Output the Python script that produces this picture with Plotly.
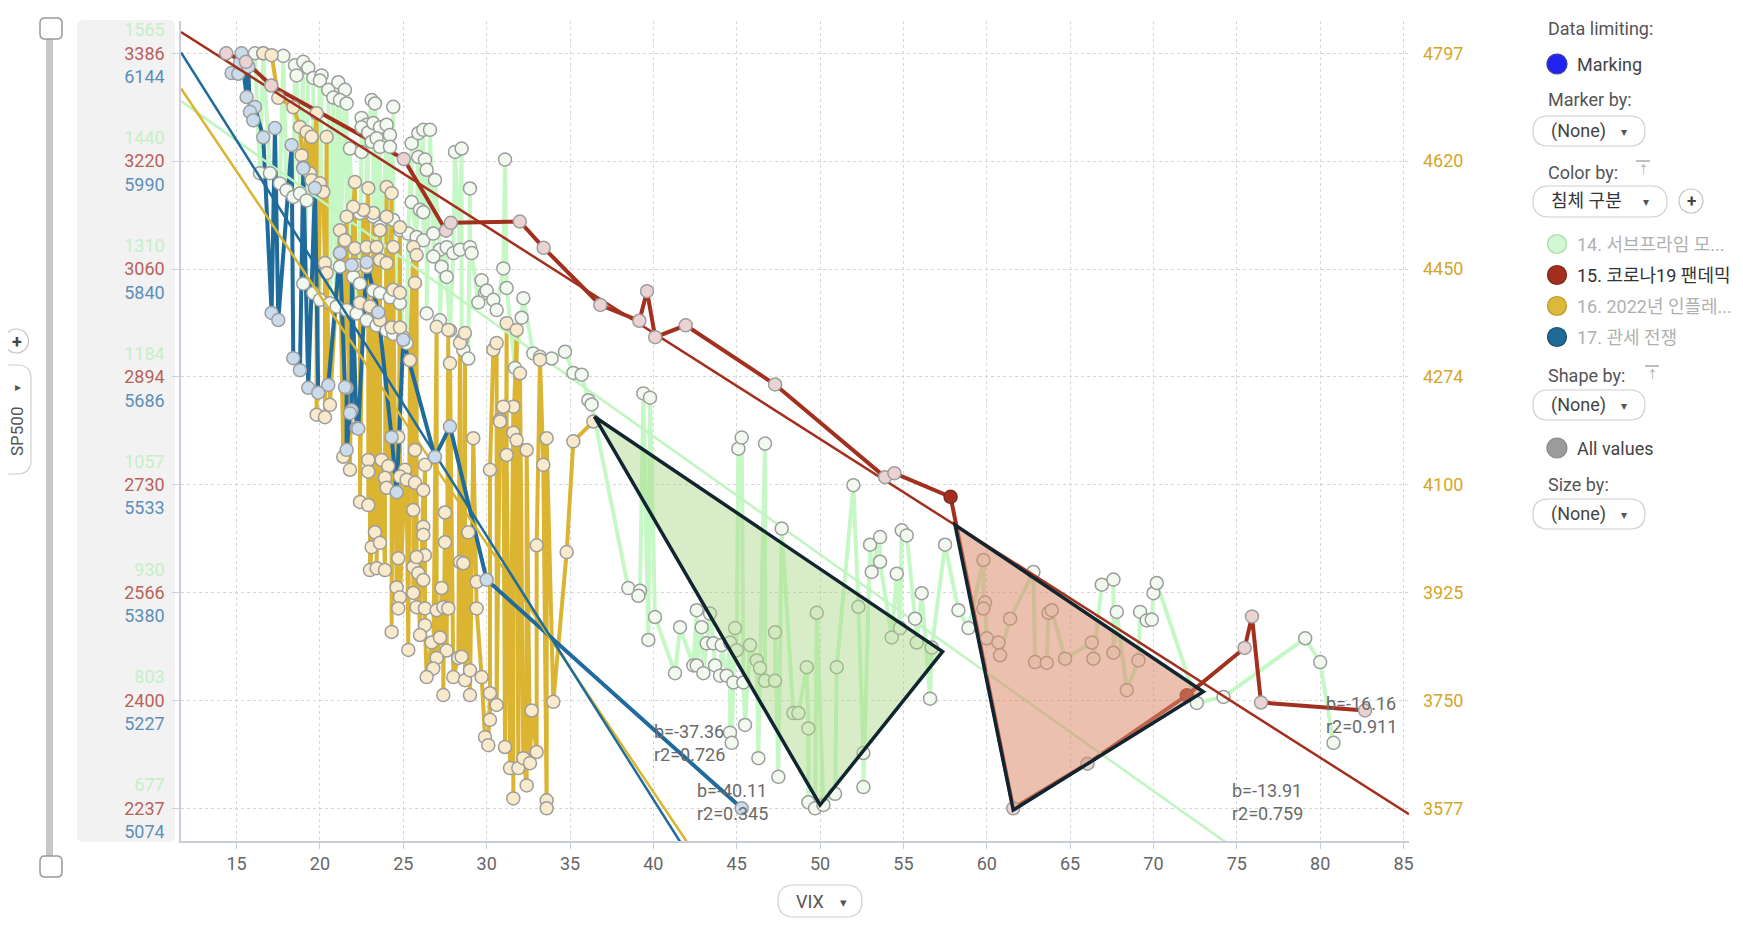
import numpy as np
import plotly.graph_objects as go

# ---------------- data ----------------
categories = ["14. 서브프라임 모...", "15. 코로나19 팬데믹", "16. 2022년 인플레...", "17. 관세 전쟁"]

green_ticks = [1565, 1440, 1310, 1184, 1057, 930, 803, 677]
red_ticks = [3386, 3220, 3060, 2894, 2730, 2566, 2400, 2237]
blue_ticks = [6144, 5990, 5840, 5686, 5533, 5380, 5227, 5074]
yellow_ticks = [4797, 4620, 4450, 4274, 4100, 3925, 3750, 3577]

# 14. subprime (VIX, SP500)
green_vix = [16.1, 16.6, 17.8, 18.5, 19.0, 19.3, 18.6, 19.6, 20.1, 20.0, 20.5, 21.1, 21.5, 20.8, 21.2, 21.6,
             22.5, 22.8, 23.1, 23.3, 22.5, 22.9, 23.2, 23.6, 24.0, 24.2, 24.4, 21.8, 22.5, 23.1, 23.4, 23.6,
             24.2, 25.5, 25.9, 26.2, 26.6, 25.9, 26.3, 26.4, 26.9, 28.1, 28.5, 29.0, 31.1,
             16.4, 17.0, 17.6, 18.0, 18.4, 18.8, 19.2, 25.5, 26.0, 26.2, 22.4, 23.2, 23.6, 24.4, 24.8, 25.3,
             25.8, 26.2, 26.8, 27.2, 27.6, 28.0, 28.4, 29.0, 29.1, 26.8, 27.3, 27.6, 29.7, 29.9, 29.5, 30.0,
             30.4, 30.6, 31.0, 31.2, 32.2, 32.1, 26.4, 27.2, 27.8, 28.5, 28.6, 28.9, 31.7, 32.8, 33.2, 33.9,
             21.2, 22.0, 22.4, 23.2, 23.6, 24.2, 24.8, 19.0, 19.6, 20.0, 20.6, 21.0, 21.6, 22.2, 22.8, 23.4,
             24.0, 24.4, 25.0, 25.2, 34.7, 35.2, 35.7, 36.1, 36.3,
             38.5, 39.2, 39.1, 39.4, 39.8, 40.1, 39.7, 41.3, 41.6, 42.6, 42.9, 43.4, 43.2, 43.6, 44.1, 44.6,
             45.0, 42.4, 42.6, 43.0, 43.7, 44.0, 44.4, 44.8, 45.4, 44.9, 45.1, 45.3, 46.7, 45.5, 44.6, 44.7,
             46.3, 47.5, 45.8, 46.2, 46.4, 46.7, 47.3, 47.3, 47.7, 48.4, 48.7, 49.3, 49.2, 49.3, 49.7, 50.2,
             50.9, 49.8, 51.0, 52.0, 52.3, 52.6, 52.6, 53.0, 53.6, 53.6, 53.1, 54.6, 54.9, 55.2, 54.3, 54.8,
             55.7, 55.8, 56.1, 56.6, 56.7, 57.5, 58.3, 58.9, 59.8, 59.9, 59.8, 60.0, 60.7, 60.8, 61.4, 62.8,
             62.9, 63.6, 63.7, 63.9, 64.7, 66.3, 66.4, 66.9, 67.6, 67.8, 67.6, 68.4, 69.1, 69.2, 69.6, 69.9,
             70.0, 70.2, 72.6, 74.2, 79.1, 80.0, 80.8]
green_sp = [1565, 1565, 1562, 1551, 1555, 1548, 1539, 1536, 1539, 1533, 1522, 1531, 1522, 1513, 1510, 1506,
            1489, 1481, 1510, 1506, 1478, 1472, 1483, 1478, 1481, 1469, 1502, 1453, 1449, 1461, 1465, 1455,
            1455, 1459, 1471, 1475, 1475, 1443, 1440, 1428, 1416, 1449, 1453, 1406, 1440,
            1424, 1424, 1412, 1404, 1396, 1400, 1392, 1390, 1381, 1378, 1377, 1373, 1361, 1369, 1357, 1353,
            1349, 1345, 1353, 1334, 1337, 1330, 1334, 1337, 1330, 1326, 1314, 1302, 1298, 1283, 1272, 1286,
            1275, 1263, 1312, 1289, 1277, 1254, 1259, 1251, 1239, 1228, 1216, 1206, 1195, 1212, 1208, 1206,
            1314, 1302, 1294, 1286, 1283, 1278, 1271, 1294, 1283, 1275, 1271, 1267, 1263, 1259, 1251, 1245,
            1239, 1235, 1231, 1224, 1214, 1189, 1187, 1157, 1152,
            936, 933, 927, 1165, 1160, 902, 875, 836, 890, 910, 890, 906, 871, 871, 869, 872,
            863, 845, 845, 836, 845, 833, 833, 825, 825, 889, 1100, 1113, 1106, 775, 766, 754,
            736, 714, 869, 851, 842, 827, 827, 884, 1006, 789, 789, 771, 843, 684, 677, 681,
            694, 907, 843, 1057, 914, 742, 702, 987, 996, 967, 955, 953, 1004, 998, 878, 889,
            900, 872, 930, 806, 866, 987, 910, 889, 969, 919, 912, 877, 872, 857, 900, 955,
            849, 848, 907, 910, 853, 872, 853, 940, 946, 908, 860, 816, 851, 908, 898, 899,
            930, 942, 801, 808, 877, 849, 754]

# 15. COVID-19
red_vix = [14.38, 15.56, 17.08, 25.03, 27.56, 27.85, 31.99, 33.42, 36.82, 39.16, 39.62, 40.11, 41.94,
           47.30, 53.90, 54.46, 57.83, 61.59, 66.04, 72.00, 75.47, 75.91, 76.45, 82.69]
red_sp = [3386, 3373, 3337, 3225, 3116, 3128, 3130, 3090, 3003, 2979, 3024, 2954, 2972,
          2882, 2741, 2747, 2711, 2237, 2305, 2409, 2481, 2529, 2398, 2386]
red_marked = [0, 0, 0, 0, 0, 0, 0, 0, 0, 0, 0, 0, 0, 0, 0, 0, 1, 0, 0, 1, 0, 0, 0, 0]

# 16. 2022 inflation
yellow_vix = [16.6, 17.1, 17.5, 18.4, 18.8, 19.2, 19.5, 19.8, 20.4, 18.9, 19.4, 19.5, 19.0, 20.0, 20.2,
              22.1, 22.9, 24.0, 24.3, 24.8, 23.6, 23.2, 22.6, 22.0, 21.6, 21.2, 21.5, 22.1, 22.8, 23.4,
              24.4, 25.6, 25.8, 24.0, 20.3, 20.4, 21.2, 22.2, 22.8, 23.6, 24.0, 25.7, 24.4, 24.8, 22.4,
              23.0, 23.6, 24.3, 24.8, 25.4, 27.0, 27.7, 27.8, 28.4, 28.7, 30.4, 30.6, 31.2, 31.8, 32.0,
              31.6, 30.8, 33.2, 19.8, 20.3, 20.6, 21.4, 21.8, 22.9, 22.9, 22.4, 22.9, 23.3, 23.1, 23.6,
              23.0, 23.4, 23.9, 23.7, 24.1, 23.9, 24.0, 24.7, 25.1, 24.8, 25.2, 25.7, 26.2, 26.3, 25.7,
              24.3, 25.3, 24.7, 24.6, 24.8, 24.7, 25.6, 25.9, 26.2, 25.6, 25.8, 26.3, 27.0, 27.4, 27.7,
              27.3, 25.6, 26.2, 26.2, 26.3, 25.8, 27.5, 27.5, 28.4, 28.6, 28.9, 26.3, 26.0, 26.7, 27.2,
              27.6, 27.0, 26.8, 26.4, 27.4, 28.0, 28.3, 28.5, 28.7, 29.0, 29.0, 29.7, 29.4, 29.4, 30.2,
              30.6, 30.2, 29.9, 30.1, 31.1, 31.4, 31.9, 32.2, 32.6, 32.4, 33.0, 32.7, 31.6, 33.6, 33.6,
              29.2, 30.2, 31.0, 30.8, 31.6, 31.8, 32.4, 31.2, 33.6, 33.4, 33.0, 34.8, 34.0, 35.2, 36.4]
yellow_sp = [4797, 4794, 4725, 4710, 4678, 4670, 4662, 4700, 4662, 4632, 4603, 4592, 4613, 4587, 4573,
             4589, 4579, 4581, 4571, 4516, 4511, 4539, 4544, 4549, 4533, 4511, 4495, 4482, 4484, 4484,
             4484, 4484, 4471, 4533, 4458, 4442, 4474, 4455, 4452, 4463, 4458, 4426, 4415, 4410, 4394,
             4388, 4366, 4354, 4354, 4301, 4355, 4350, 4296, 4329, 4345, 4318, 4329, 4361, 4350, 4280,
             4226, 4205, 4302, 4213, 4209, 4229, 4145, 4124, 4140, 4121, 4072, 4067, 4023, 3999, 4006,
             3962, 3965, 3962, 4140, 4130, 4111, 4095, 4177, 4124, 4113, 4108, 4103, 4091, 4132, 4156,
             3862, 3833, 3981, 3934, 3918, 3900, 3967, 3957, 3946, 3925, 3902, 3900, 3897, 3902, 3900,
             3933, 4059, 4032, 4019, 3986, 3983, 4055, 4007, 3975, 3973, 4023, 3873, 3857, 3845, 3853,
             3832, 3820, 3803, 3789, 3760, 3789, 3820, 3822, 3784, 3800, 3760, 3789, 3943, 3900, 3763,
             3744, 3720, 3692, 3679, 3676, 3642, 3642, 3658, 3650, 3614, 3668, 3735, 3593, 3590, 3577,
             4175, 4124, 4226, 4202, 4184, 4172, 4156, 4148, 4175, 4132, 4002, 3991, 3749, 4170, 4202]

# 17. tariff war
blue_vix = [14.7, 15.1, 15.2, 15.3, 15.7, 15.6, 16.1, 15.8, 16.0, 16.6, 17.3, 18.3, 19.0, 19.7, 17.1, 17.5,
            18.4, 18.8, 19.3, 19.9, 20.5, 21.6, 21.9, 21.2, 21.9, 22.8, 23.5, 25.0, 27.8, 21.6, 22.2, 24.3,
            21.5, 21.8, 22.3, 24.6, 26.9, 30.0, 45.3]
blue_sp = [6116, 6115, 6130, 6144, 6125, 6082, 6068, 6061, 6049, 6025, 6038, 6014, 5981, 5953, 5776, 5766,
           5712, 5695, 5670, 5663, 5674, 5670, 5638, 5861, 5844, 5848, 5777, 5738, 5615, 5582, 5613, 5600,
           5671, 5634, 5612, 5522, 5572, 5398, 5074]

# linear fits (intercept a, slope b, r2) per category: green, red, yellow, blue
fit_a = [1671, 3607, 5208, 6581]
fit_b = [-13.91, -16.16, -40.11, -37.36]
fit_r2 = [0.759, 0.911, 0.345, 0.726]

# ---------------- layout geometry (page pixels; page body has an 8px margin) ----------------
OFF = 8
W, H = 1743 - OFF, 925 - OFF
L, R, T, B = 181, 1409, 21, 841          # plot area in page pixels
PW, PH = R - L, B - T


def fx(p):
    return (p - L) / PW


def fy(p):
    return (B - p) / PH


x_range = [11.665, 85.33]


def yrange(ticks):
    top, bot = ticks[0], ticks[-1]
    step = (top - bot) / 7
    return [bot - 0.303 * step, top + 0.2995 * step]


def tickpos(ticks):
    return list(np.linspace(ticks[0], ticks[-1], 8))


line_col = {"g": "#c6f8c6", "r": "#a3301f", "y": "#dbb431", "b": "#1f6b9b"}
fill_col = {"g": "#f2faf0", "r": "#ebd3d3", "y": "#f8eacb", "b": "#cadcec"}
MK_LINE = dict(color="#9d9d9d", width=1.5)

series = {
    "g": (green_vix, green_sp, green_ticks, 0),
    "y": (yellow_vix, yellow_sp, yellow_ticks, 2),
    "b": (blue_vix, blue_sp, blue_ticks, 3),
    "r": (red_vix, red_sp, red_ticks, 1),
}
line_axis = {"g": "y", "y": "y2", "b": "y3", "r": "y4"}
mark_axis = {"g": "y5", "y": "y6", "b": "y7", "r": "y8"}

fig = go.Figure()

# data lines (connected in order of x, as Spotfire does)
for k in ["g", "y", "b", "r"]:
    xs, ys, _, _ = series[k]
    order = np.argsort(np.array(xs), kind="stable")
    fig.add_trace(go.Scatter(x=np.array(xs)[order], y=np.array(ys)[order], mode="lines",
                             line=dict(color=line_col[k], width=4), yaxis=line_axis[k],
                             hoverinfo="skip"))

# fit lines + markers
for k in ["g", "y", "b", "r"]:
    xs, ys, _, i = series[k]
    fxs = np.array(x_range)
    fig.add_trace(go.Scatter(x=fxs, y=fit_a[i] + fit_b[i] * fxs, mode="lines",
                             line=dict(color=line_col[k] if k != "g" else "#bff5bf", width=2.5),
                             yaxis=mark_axis[k], hoverinfo="skip"))
    if k == "r":
        cols = ["#a3301f" if m else fill_col[k] for m in red_marked]
        lcols = ["#7a2a20" if m else "#9d9d9d" for m in red_marked]
        mk = dict(size=13, color=cols, line=dict(color=lcols, width=1.5))
    else:
        mk = dict(size=13, color=fill_col[k], line=MK_LINE)
    fig.add_trace(go.Scatter(x=xs, y=ys, mode="markers", marker=mk, yaxis=mark_axis[k],
                             hoverinfo="skip"))

# ---------------- axes ----------------
ticktext = [f"<span style='color:#c6efc6'>{g}</span><br><span style='color:#b8625c'>{r}</span>"
            f"<br><span style='color:#5d8fb8'>{b}</span>"
            for g, r, b in zip(green_ticks, red_ticks, blue_ticks)]

axcol = "#c8ccdc"
gridc = "#d6d6d6"
layout_axes = dict(
    xaxis=dict(range=x_range, tickvals=list(range(15, 90, 5)), showgrid=True, gridcolor=gridc,
               griddash="dot", gridwidth=1, showline=True, linecolor=axcol, linewidth=1.5,
               ticks="outside", ticklen=6, tickcolor=axcol, tickfont=dict(size=18, color="#666"),
               zeroline=False),
    yaxis=dict(range=yrange(green_ticks), tickvals=tickpos(green_ticks), ticktext=ticktext,
               showgrid=True, gridcolor=gridc, griddash="dot", showline=True, linecolor=axcol,
               linewidth=1.5, ticks="outside", ticklen=7, tickcolor=axcol, zeroline=False,
               tickfont=dict(size=18), ticklabelstandoff=4),
    yaxis2=dict(range=yrange(yellow_ticks), overlaying="y", side="right",
                tickvals=tickpos(yellow_ticks), ticktext=[str(v) for v in yellow_ticks],
                tickfont=dict(size=18, color="#d4a62a"), showgrid=False, zeroline=False,
                showline=False, ticks="", ticklabelstandoff=13),
)
rng_map = {"y3": blue_ticks, "y4": red_ticks, "y5": green_ticks, "y6": yellow_ticks,
           "y7": blue_ticks, "y8": red_ticks}
for ax, tk in rng_map.items():
    layout_axes["yaxis" + ax[1:]] = dict(range=yrange(tk), overlaying="y", visible=False)

fig.update_layout(**layout_axes)

# ---------------- shapes ----------------
shapes = []


def rrect(x0, y0, x1, y1, r):
    pts = [("M", [(x0 + r, y0)]), ("L", [(x1 - r, y0)]), ("Q", [(x1, y0), (x1, y0 + r)]),
           ("L", [(x1, y1 - r)]), ("Q", [(x1, y1), (x1 - r, y1)]), ("L", [(x0 + r, y1)]),
           ("Q", [(x0, y1), (x0, y1 - r)]), ("L", [(x0, y0 + r)]), ("Q", [(x0, y0), (x0 + r, y0)])]
    s = ""
    for c, ps in pts:
        s += c + " ".join(f"{fx(a):.5f},{fy(b):.5f}" for a, b in ps) + " "
    return s + "Z"


def add_rr(x0, y0, x1, y1, r, fill="white", line="#cfcfcf", lw=1.2, layer="above"):
    shapes.append(dict(type="path", path=rrect(x0, y0, x1, y1, r), xref="paper", yref="paper",
                       fillcolor=fill, line=dict(color=line, width=lw), layer=layer))


def add_circle(cx, cy, r, fill, line, lw=1.2):
    shapes.append(dict(type="circle", xref="paper", yref="paper", x0=fx(cx - r), x1=fx(cx + r),
                       y0=fy(cy + r), y1=fy(cy - r), fillcolor=fill, line=dict(color=line, width=lw)))


def add_line(x0, y0, x1, y1, col="#aaa", w=1.5):
    shapes.append(dict(type="line", xref="paper", yref="paper", x0=fx(x0), x1=fx(x1),
                       y0=fy(y0), y1=fy(y1), line=dict(color=col, width=w)))


# left tick-label background
add_rr(77, 20, 175, 842, 6, fill="#f2f2f2", line="rgba(0,0,0,0)", lw=0, layer="below")
# slider
shapes.append(dict(type="rect", xref="paper", yref="paper", x0=fx(46), x1=fx(53), y0=fy(866), y1=fy(30),
                   fillcolor="#c6c7c9", line=dict(width=0)))
add_rr(40, 18, 62, 39, 5, fill="white", line="#9a9a9a", lw=1.5)
add_rr(40, 856, 62, 877, 5, fill="white", line="#9a9a9a", lw=1.5)
# plus button + SP500 pill
add_circle(16.5, 341, 12, "white", "#c4c4c4")
add_rr(-10, 365, 31, 474, 14, fill="white", line="#cfcfcf")
# VIX pill
add_rr(778, 885, 862, 917, 16, fill="white", line="#cfcfcf")

# triangles (drawn annotations, in data coords of the red axis)
tri_g = [(36.47, 2833.0), (57.35, 2475.4), (50.0, 2242.1)]
tri_r = [(58.10, 2668.2), (72.99, 2414.5), (61.59, 2234.4)]
for tri, col in [(tri_g, "rgba(168,215,130,0.45)"), (tri_r, "rgba(218,140,110,0.55)")]:
    p = "M" + " L".join(f"{a},{b}" for a, b in tri) + " Z"
    shapes.append(dict(type="path", path=p, xref="x", yref="y8", fillcolor=col,
                       line=dict(color="#10252f", width=3.5), layer="above"))

# right panel pills and markers
add_circle(1557, 64, 10, "#2323f0", "#3a3aa8")
add_rr(1533, 116, 1645, 146, 15)
add_rr(1533, 186, 1667, 217, 16)
add_circle(1691, 201, 12, "white", "#c4c4c4")
add_rr(1533, 390, 1645, 420, 15)
add_rr(1533, 499, 1645, 529, 15)
leg_fill = ["#d3f7d3", "#a3301f", "#dbb93a", "#1f6a96"]
leg_line = ["#a6d8a6", "#7a2418", "#b8982a", "#174f70"]
leg_y = [244, 275, 306, 337]
for f, lc, yy in zip(leg_fill, leg_line, leg_y):
    add_circle(1557, yy, 9.5, f, lc)
add_circle(1557, 448, 10, "#9b9b9b", "#888")
# "sort" icons (bar + arrow)
add_line(1636, 161, 1650, 161)
add_line(1645, 366, 1659, 366)

fig.update_layout(shapes=shapes)

# ---------------- annotations ----------------
ann = []
FONT = "Roboto, 'Noto Sans CJK KR', sans-serif"


def text(x, y, s, size=18, color="#555", anchor="left", **kw):
    ann.append(dict(x=fx(x), y=fy(y), xref="paper", yref="paper", text=s, showarrow=False,
                    xanchor=anchor, yanchor="middle", font=dict(size=size, color=color, family=FONT), **kw))


# fit labels
fit_lab_pos = {0: (1232, 790), 1: (1326, 703), 2: (697, 790), 3: (654, 731)}
for i, (px_, py_) in fit_lab_pos.items():
    ann.append(dict(x=fx(px_ - 2), y=fy(py_ - 12), xref="paper", yref="paper",
                    text=f"b={fit_b[i]:.2f}<br>r2={fit_r2[i]:.3f}", showarrow=False, xanchor="left",
                    yanchor="top", align="left", font=dict(size=18, color="#6a6a6a", family=FONT)))

# left widgets
text(16.5, 341, "<b>+</b>", size=18, color="#444", anchor="center")
text(18, 387, "▸", size=12, color="#555", anchor="center")
text(17, 432, "SP500", size=17, color="#555", anchor="center", textangle=-90)
text(810, 901, "VIX", size=18, color="#555", anchor="center")
text(843, 902, "▾", size=13, color="#555", anchor="center")

# right panel
text(1546, 28, "Data limiting:")
text(1575, 64, "Marking", color="#444")
text(1546, 100, "Marker by:")
text(1549, 131, "(None)", color="#444")
text(1624, 132, "▾", size=12, color="#555", anchor="center")
text(1546, 172, "Color by:")
text(1643, 170, "↑", size=11, color="#aaa", anchor="center")
text(1549, 201, "침체 구분", color="#333")
text(1646, 202, "▾", size=12, color="#555", anchor="center")
text(1691, 201, "<b>+</b>", size=17, color="#444", anchor="center")
leg_txt_col = ["#b0b0b0", "#333333", "#b0b0b0", "#b0b0b0"]
for c, tc, yy in zip(categories, leg_txt_col, leg_y):
    text(1575, yy, c, color=tc)
text(1546, 375, "Shape by:")
text(1652, 375, "↑", size=11, color="#aaa", anchor="center")
text(1549, 405, "(None)", color="#444")
text(1624, 406, "▾", size=12, color="#555", anchor="center")
text(1575, 448, "All values", color="#444")
text(1546, 484, "Size by:")
text(1549, 514, "(None)", color="#444")
text(1624, 515, "▾", size=12, color="#555", anchor="center")

# shift everything from page pixels to figure pixels through the margins
fig.update_layout(annotations=ann, width=W, height=H,
                  margin=dict(l=L - OFF, r=W - (R - OFF), t=T - OFF, b=H - (B - OFF)),
                  plot_bgcolor="white", paper_bgcolor="white", showlegend=False,
                  font=dict(family=FONT, size=16, color="#555"), hovermode=False)

fig.write_html("out.html")
